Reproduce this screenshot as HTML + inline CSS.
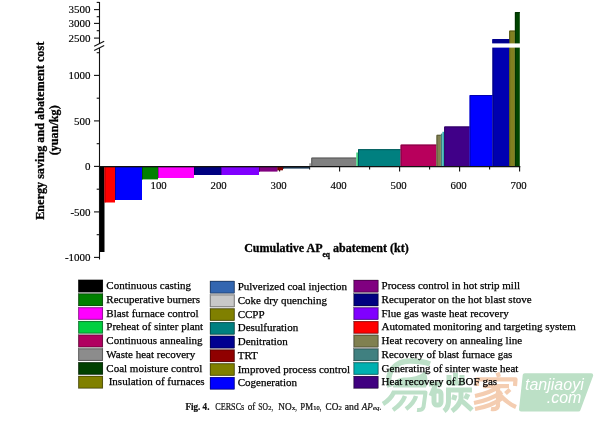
<!DOCTYPE html>
<html><head><meta charset="utf-8"><style>
html,body{margin:0;padding:0;background:#fff;width:600px;height:422px;overflow:hidden}
svg{display:block}
.t{font-family:"Liberation Serif",serif}
.k{stroke:#000;stroke-width:0.25px}
</style></head><body>
<svg width="600" height="422" viewBox="0 0 600 422">
<rect width="600" height="422" fill="#fff"/>

<g stroke="#111" stroke-width="1.1" fill="none">
<line x1="94" y1="75.4" x2="99.5" y2="75.4"/>
<line x1="94" y1="120.9" x2="99.5" y2="120.9"/>
<line x1="94" y1="166.4" x2="99.5" y2="166.4"/>
<line x1="94" y1="211.9" x2="99.5" y2="211.9"/>
<line x1="94" y1="257.4" x2="99.5" y2="257.4"/>
<line x1="96.7" y1="52.7" x2="99.5" y2="52.7"/>
<line x1="96.7" y1="98.2" x2="99.5" y2="98.2"/>
<line x1="96.7" y1="143.7" x2="99.5" y2="143.7"/>
<line x1="96.7" y1="189.2" x2="99.5" y2="189.2"/>
<line x1="96.7" y1="234.7" x2="99.5" y2="234.7"/>
<line x1="96.7" y1="2.4" x2="99.5" y2="2.4"/>
<line x1="94" y1="9.6" x2="99.5" y2="9.6"/>
<line x1="96.7" y1="16.7" x2="99.5" y2="16.7"/>
<line x1="94" y1="23.4" x2="99.5" y2="23.4"/>
<line x1="96.7" y1="30.7" x2="99.5" y2="30.7"/>
<line x1="94" y1="38.1" x2="99.5" y2="38.1"/>
<line x1="99.6" y1="166.6" x2="99.6" y2="171.6"/>
<line x1="129.6" y1="166.6" x2="129.6" y2="169.6"/>
<line x1="159.6" y1="166.6" x2="159.6" y2="171.6"/>
<line x1="189.6" y1="166.6" x2="189.6" y2="169.6"/>
<line x1="219.6" y1="166.6" x2="219.6" y2="171.6"/>
<line x1="249.6" y1="166.6" x2="249.6" y2="169.6"/>
<line x1="279.6" y1="166.6" x2="279.6" y2="171.6"/>
<line x1="309.6" y1="166.6" x2="309.6" y2="169.6"/>
<line x1="339.6" y1="166.6" x2="339.6" y2="171.6"/>
<line x1="369.6" y1="166.6" x2="369.6" y2="169.6"/>
<line x1="399.6" y1="166.6" x2="399.6" y2="171.6"/>
<line x1="429.6" y1="166.6" x2="429.6" y2="169.6"/>
<line x1="459.6" y1="166.6" x2="459.6" y2="171.6"/>
<line x1="489.6" y1="166.6" x2="489.6" y2="169.6"/>
<line x1="519.6" y1="166.6" x2="519.6" y2="171.6"/>
</g>
<rect x="99.5" y="166.4" width="5.00" height="85.60" fill="#000000"/>
<path d="M100.00 252.00 V166.90 H104.50" fill="none" stroke="#000000" stroke-width="1"/>
<rect x="104.5" y="166.4" width="10.50" height="36.10" fill="#FF0000"/>
<path d="M105.00 202.50 V166.90 H115.00" fill="none" stroke="#b20000" stroke-width="1"/>
<rect x="115" y="166.4" width="27.00" height="33.60" fill="#0000FF"/>
<path d="M115.50 200.00 V166.90 H142.00" fill="none" stroke="#0000b2" stroke-width="1"/>
<rect x="142" y="166.4" width="16.00" height="13.00" fill="#008000"/>
<path d="M142.50 179.40 V166.90 H158.00" fill="none" stroke="#005900" stroke-width="1"/>
<rect x="158" y="166.4" width="36.00" height="11.60" fill="#FF00FF"/>
<path d="M158.50 178.00 V166.90 H194.00" fill="none" stroke="#b200b2" stroke-width="1"/>
<rect x="194" y="166.4" width="27.00" height="8.60" fill="#000080"/>
<path d="M194.50 175.00 V166.90 H221.00" fill="none" stroke="#000059" stroke-width="1"/>
<rect x="221" y="166.4" width="38.00" height="8.60" fill="#8000FF"/>
<path d="M221.50 175.00 V166.90 H259.00" fill="none" stroke="#5900b2" stroke-width="1"/>
<rect x="259" y="166.4" width="18.50" height="5.20" fill="#800080"/>
<path d="M259.50 171.60 V166.90 H277.50" fill="none" stroke="#590059" stroke-width="1"/>
<rect x="277.5" y="166.4" width="5.50" height="3.90" fill="#800000"/>
<path d="M278.00 170.30 V166.90 H283.00" fill="none" stroke="#590000" stroke-width="1"/>
<rect x="283" y="166.4" width="26.50" height="2.20" fill="#1F3F5F"/>
<path d="M283.50 168.60 V166.90 H309.50" fill="none" stroke="#152c42" stroke-width="1"/>
<rect x="309.2" y="163.3" width="2.10" height="3.10" fill="#A0A0A0"/>
<rect x="311.3" y="157.6" width="45.00" height="8.80" fill="#808080"/>
<path d="M311.80 166.40 V158.10 H356.30" fill="none" stroke="#595959" stroke-width="1"/>
<rect x="356.3" y="152.5" width="1.70" height="13.90" fill="#40D080"/>
<rect x="358" y="149.2" width="42.60" height="17.20" fill="#008080"/>
<path d="M358.50 166.40 V149.70 H400.60" fill="none" stroke="#005959" stroke-width="1"/>
<rect x="400.6" y="144.6" width="35.90" height="21.80" fill="#B8005C"/>
<path d="M401.10 166.40 V145.10 H436.50" fill="none" stroke="#800040" stroke-width="1"/>
<rect x="436.5" y="134.8" width="4.40" height="31.60" fill="#808050"/>
<path d="M437.00 166.40 V135.30 H440.90" fill="none" stroke="#595938" stroke-width="1"/>
<rect x="440.9" y="133.6" width="1.50" height="32.80" fill="#408080"/>
<rect x="442.4" y="131.8" width="1.80" height="34.60" fill="#30B0B0"/>
<rect x="444.2" y="126.5" width="25.50" height="39.90" fill="#400088"/>
<path d="M444.70 166.40 V127.00 H469.70" fill="none" stroke="#2c005f" stroke-width="1"/>
<rect x="469.6" y="95" width="22.90" height="71.40" fill="#0000FF"/>
<path d="M470.10 166.40 V95.50 H492.50" fill="none" stroke="#0000b2" stroke-width="1"/>
<rect x="492.5" y="39.1" width="16.70" height="127.30" fill="#0000B0"/>
<path d="M493.00 166.40 V39.60 H509.20" fill="none" stroke="#00007b" stroke-width="1"/>
<rect x="509.2" y="30.6" width="5.70" height="135.80" fill="#808020"/>
<path d="M509.70 166.40 V31.10 H514.90" fill="none" stroke="#595916" stroke-width="1"/>
<rect x="514.9" y="12.1" width="4.90" height="154.30" fill="#004400"/>
<path d="M515.40 166.40 V12.60 H519.80" fill="none" stroke="#002f00" stroke-width="1"/>
<rect x="492.5" y="39.1" width="16.7" height="4.3" fill="#000090"/>
<rect x="492" y="43.4" width="28.5" height="4.2" fill="#fff"/>
<g stroke="#111" stroke-width="1.1" fill="none">
<line x1="99.2" y1="166.6" x2="520.3" y2="166.6"/>
<line x1="99.5" y1="48" x2="99.5" y2="259.5"/>
<line x1="99.5" y1="2" x2="99.5" y2="44"/>
</g>
<g stroke="#111" stroke-width="1.1"><line x1="94.2" y1="46.2" x2="104.2" y2="41.3"/><line x1="94.2" y1="50.5" x2="104.2" y2="45.5"/></g>
<g class="t" font-size="11" fill="#000" stroke="#000" stroke-width="0.15" text-anchor="end">
<text x="90.6" y="79.2">1000</text>
<text x="90.6" y="124.7">500</text>
<text x="90.6" y="170.2">0</text>
<text x="90.6" y="215.7">-500</text>
<text x="90.6" y="261.2">-1000</text>
<text x="90.6" y="13.4">3500</text>
<text x="90.6" y="27.2">3000</text>
<text x="90.6" y="41.9">2500</text>
</g>
<g class="t" font-size="10.8" fill="#000" stroke="#000" stroke-width="0.15" text-anchor="middle">
<text x="158.6" y="189.3">100</text>
<text x="218.6" y="189.3">200</text>
<text x="278.6" y="189.3">300</text>
<text x="338.6" y="189.3">400</text>
<text x="398.6" y="189.3">500</text>
<text x="458.6" y="189.3">600</text>
<text x="518.6" y="189.3">700</text>
</g>
<g class="t" font-weight="bold" fill="#000" stroke="#000" stroke-width="0.3">
<text transform="translate(44.2 130.8) rotate(-90)" text-anchor="middle" font-size="12.2">Energy saving and abatement cost</text>
<text transform="translate(58.2 130.3) rotate(-90)" text-anchor="middle" font-size="12.2">(yuan/kg)</text>
<text x="244.2" y="251.7" font-size="12">Cumulative AP<tspan font-size="7.5" dy="4.8">eq</tspan><tspan dy="-4.8"> abatement (kt)</tspan></text>
</g>
<g class="t k" font-size="11" fill="#000">
<rect x="78.3" y="279.90" width="24.6" height="12.3" fill="#000000"/>
<rect x="78.8" y="280.40" width="23.6" height="11.3" fill="none" stroke="rgba(0,0,0,0.22)" stroke-width="1"/>
<text x="106.3" y="289.20">Continuous casting</text>
<rect x="78.3" y="293.63" width="24.6" height="12.3" fill="#008000"/>
<rect x="78.8" y="294.13" width="23.6" height="11.3" fill="none" stroke="rgba(0,0,0,0.22)" stroke-width="1"/>
<text x="106.3" y="302.93">Recuperative burners</text>
<rect x="78.3" y="307.36" width="24.6" height="12.3" fill="#FF00FF"/>
<rect x="78.8" y="307.86" width="23.6" height="11.3" fill="none" stroke="rgba(0,0,0,0.22)" stroke-width="1"/>
<text x="106.3" y="316.66">Blast furnace control</text>
<rect x="78.3" y="321.09" width="24.6" height="12.3" fill="#00D040"/>
<rect x="78.8" y="321.59" width="23.6" height="11.3" fill="none" stroke="rgba(0,0,0,0.22)" stroke-width="1"/>
<text x="106.3" y="330.39">Preheat of sinter plant</text>
<rect x="78.3" y="334.82" width="24.6" height="12.3" fill="#B00060"/>
<rect x="78.8" y="335.32" width="23.6" height="11.3" fill="none" stroke="rgba(0,0,0,0.22)" stroke-width="1"/>
<text x="106.3" y="344.12">Continuous annealing</text>
<rect x="78.3" y="348.55" width="24.6" height="12.3" fill="#8C8C8C"/>
<rect x="78.8" y="349.05" width="23.6" height="11.3" fill="none" stroke="rgba(0,0,0,0.22)" stroke-width="1"/>
<text x="106.3" y="357.85">Waste heat recovery</text>
<rect x="78.3" y="362.28" width="24.6" height="12.3" fill="#004000"/>
<rect x="78.8" y="362.78" width="23.6" height="11.3" fill="none" stroke="rgba(0,0,0,0.22)" stroke-width="1"/>
<text x="106.3" y="371.58">Coal moisture control</text>
<rect x="78.3" y="376.01" width="24.6" height="12.3" fill="#808000"/>
<rect x="78.8" y="376.51" width="23.6" height="11.3" fill="none" stroke="rgba(0,0,0,0.22)" stroke-width="1"/>
<text x="108.7" y="385.31">Insulation of furnaces</text>
<rect x="210" y="281.00" width="24.6" height="12.3" fill="#3366B0"/>
<rect x="210.5" y="281.50" width="23.6" height="11.3" fill="none" stroke="rgba(0,0,0,0.22)" stroke-width="1"/>
<text x="237.7" y="290.30">Pulverized coal injection</text>
<rect x="210" y="294.73" width="24.6" height="12.3" fill="#C8C8C8"/>
<rect x="210.5" y="295.23" width="23.6" height="11.3" fill="none" stroke="rgba(0,0,0,0.22)" stroke-width="1"/>
<text x="237.7" y="304.03">Coke dry quenching</text>
<rect x="210" y="308.46" width="24.6" height="12.3" fill="#808000"/>
<rect x="210.5" y="308.96" width="23.6" height="11.3" fill="none" stroke="rgba(0,0,0,0.22)" stroke-width="1"/>
<text x="237.7" y="317.76">CCPP</text>
<rect x="210" y="322.19" width="24.6" height="12.3" fill="#008080"/>
<rect x="210.5" y="322.69" width="23.6" height="11.3" fill="none" stroke="rgba(0,0,0,0.22)" stroke-width="1"/>
<text x="237.7" y="331.49">Desulfuration</text>
<rect x="210" y="335.92" width="24.6" height="12.3" fill="#000090"/>
<rect x="210.5" y="336.42" width="23.6" height="11.3" fill="none" stroke="rgba(0,0,0,0.22)" stroke-width="1"/>
<text x="237.7" y="345.22">Denitration</text>
<rect x="210" y="349.65" width="24.6" height="12.3" fill="#900000"/>
<rect x="210.5" y="350.15" width="23.6" height="11.3" fill="none" stroke="rgba(0,0,0,0.22)" stroke-width="1"/>
<text x="237.7" y="358.95">TRT</text>
<rect x="210" y="363.38" width="24.6" height="12.3" fill="#808000"/>
<rect x="210.5" y="363.88" width="23.6" height="11.3" fill="none" stroke="rgba(0,0,0,0.22)" stroke-width="1"/>
<text x="237.7" y="372.68">Improved process control</text>
<rect x="210" y="377.11" width="24.6" height="12.3" fill="#0000FF"/>
<rect x="210.5" y="377.61" width="23.6" height="11.3" fill="none" stroke="rgba(0,0,0,0.22)" stroke-width="1"/>
<text x="237.7" y="386.41">Cogeneration</text>
<rect x="353.7" y="280.00" width="24.6" height="12.3" fill="#800080"/>
<rect x="354.2" y="280.50" width="23.6" height="11.3" fill="none" stroke="rgba(0,0,0,0.22)" stroke-width="1"/>
<text x="381.6" y="289.30">Process control in hot strip mill</text>
<rect x="353.7" y="293.73" width="24.6" height="12.3" fill="#000080"/>
<rect x="354.2" y="294.23" width="23.6" height="11.3" fill="none" stroke="rgba(0,0,0,0.22)" stroke-width="1"/>
<text x="381.6" y="303.03">Recuperator on the hot blast stove</text>
<rect x="353.7" y="307.46" width="24.6" height="12.3" fill="#8000FF"/>
<rect x="354.2" y="307.96" width="23.6" height="11.3" fill="none" stroke="rgba(0,0,0,0.22)" stroke-width="1"/>
<text x="381.6" y="316.76">Flue gas waste heat recovery</text>
<rect x="353.7" y="321.19" width="24.6" height="12.3" fill="#FF0000"/>
<rect x="354.2" y="321.69" width="23.6" height="11.3" fill="none" stroke="rgba(0,0,0,0.22)" stroke-width="1"/>
<text x="381.6" y="330.49">Automated monitoring and targeting system</text>
<rect x="353.7" y="334.92" width="24.6" height="12.3" fill="#808050"/>
<rect x="354.2" y="335.42" width="23.6" height="11.3" fill="none" stroke="rgba(0,0,0,0.22)" stroke-width="1"/>
<text x="381.6" y="344.22">Heat recovery on annealing line</text>
<rect x="353.7" y="348.65" width="24.6" height="12.3" fill="#408080"/>
<rect x="354.2" y="349.15" width="23.6" height="11.3" fill="none" stroke="rgba(0,0,0,0.22)" stroke-width="1"/>
<text x="381.6" y="357.95">Recovery of blast furnace gas</text>
<rect x="353.7" y="362.38" width="24.6" height="12.3" fill="#00B0B0"/>
<rect x="354.2" y="362.88" width="23.6" height="11.3" fill="none" stroke="rgba(0,0,0,0.22)" stroke-width="1"/>
<text x="381.6" y="371.68">Generating of sinter waste heat</text>
<rect x="353.7" y="376.11" width="24.6" height="12.3" fill="#400080"/>
<rect x="354.2" y="376.61" width="23.6" height="11.3" fill="none" stroke="rgba(0,0,0,0.22)" stroke-width="1"/>
<text x="381.6" y="385.41">Heat recovery of BOF gas</text>
</g>
<g class="t" fill="#111" stroke="#111" stroke-width="0.22">
<text x="185.5" y="409.8" font-size="9.5" textLength="23.9" lengthAdjust="spacingAndGlyphs" font-weight="bold">Fig. 4.</text>
<text x="215.2" y="409.8" font-size="9.5" textLength="29.1" lengthAdjust="spacingAndGlyphs" >CERSCs</text>
<text x="247.8" y="409.8" font-size="9.5" textLength="7.6" lengthAdjust="spacingAndGlyphs" >of</text>
<text x="258.3" y="409.8" font-size="9.5" textLength="9.7" lengthAdjust="spacingAndGlyphs" >SO</text>
<text x="268.2" y="410.2" font-size="6.2" textLength="3.2" lengthAdjust="spacingAndGlyphs" >2</text>
<text x="271.6" y="409.8" font-size="9.5" textLength="1.6" lengthAdjust="spacingAndGlyphs" >,</text>
<text x="278.3" y="409.8" font-size="9.5" textLength="13.4" lengthAdjust="spacingAndGlyphs" >NO</text>
<text x="291.9" y="410.2" font-size="6.2" textLength="3.2" lengthAdjust="spacingAndGlyphs" >x</text>
<text x="295.3" y="409.8" font-size="9.5" textLength="1.6" lengthAdjust="spacingAndGlyphs" >,</text>
<text x="300.3" y="409.8" font-size="9.5" textLength="12.7" lengthAdjust="spacingAndGlyphs" >PM</text>
<text x="313.2" y="410.2" font-size="6.2" textLength="6.4" lengthAdjust="spacingAndGlyphs" >10</text>
<text x="319.8" y="409.8" font-size="9.5" textLength="1.6" lengthAdjust="spacingAndGlyphs" >,</text>
<text x="325.6" y="409.8" font-size="9.5" textLength="12.8" lengthAdjust="spacingAndGlyphs" >CO</text>
<text x="338.6" y="410.2" font-size="6.2" textLength="3.3" lengthAdjust="spacingAndGlyphs" >2</text>
<text x="344.8" y="409.8" font-size="9.5" textLength="14.0" lengthAdjust="spacingAndGlyphs" >and</text>
<text x="361.8" y="409.8" font-size="9.5" textLength="11.0" lengthAdjust="spacingAndGlyphs" font-style="italic">AP</text>
<text x="373.0" y="410.2" font-size="6.2" textLength="6.3" lengthAdjust="spacingAndGlyphs" font-style="italic">eq</text>
<text x="379.5" y="409.8" font-size="9.5" textLength="1.6" lengthAdjust="spacingAndGlyphs" >.</text>
</g>
<g style="mix-blend-mode:multiply">
<g fill="none" stroke="#BDE0C8" stroke-width="5" stroke-linecap="butt" stroke-linejoin="round">
<path d="M390 387 C385 372 396 361 410 361 C418 361 425 362 430 364" stroke-width="5.5"/>
<path d="M393 387.5 C393 381 398 377.5 404 377.5 C412 377.5 420 376 425 371 C428 376 428 382 426 387.5 Z" fill="#BDE0C8" stroke="none"/>
<path d="M392 392.5 L425.5 392.5 L423.5 407 Q422.5 410.5 417 410" stroke-width="4"/>
<path d="M394 392 Q391 399 383 404" stroke-width="4.5"/>
<path d="M405 396 Q402 404 393 410" stroke-width="4.5"/>
<path d="M416 396 Q414 403 406 409" stroke-width="4.5"/>
<path d="M429 384 L442 384"/>
<path d="M436 384 L431 396"/>
<rect x="434" y="391" width="7" height="14" rx="3"/>
<path d="M449 375 L449 383 L462 383 L462 375"/>
<path d="M455.5 373 L455.5 383"/>
<path d="M446 390 L472 390"/>
<path d="M448.5 390 L448.5 402 Q448 408 444 411"/>
<path d="M455 395 L453.5 400"/>
<path d="M468 394 L465.5 399"/>
<path d="M461 392 L461 399 Q459 406 452 411"/>
<path d="M462 401 L472 410"/>
</g>
<g fill="none" stroke="#F4CDB1" stroke-width="4.2" stroke-linecap="butt" stroke-linejoin="round">
<path d="M497.5 372.5 L499 377"/>
<path d="M477 386 L477 379.3 L515.5 379.3 L515 386"/>
<path d="M483 386.1 L509 386.1"/>
<path d="M500 386 Q490 393 475 396"/>
<path d="M502 392 Q490 400 474 403"/>
<path d="M503 397.5 Q492 406 475 409"/>
<path d="M498 387 L498 406 Q497 410 491 409"/>
<path d="M499.5 394.5 Q507 403 516 407"/>
<path d="M510 389.5 L505.5 393.5"/>
</g>
<path d="M524.7 375.2 L591.2 375.2 L578.5 409.5 L521 409.5 Z" fill="#BCE0C6" stroke="#BCE0C6" stroke-width="4" stroke-linejoin="round"/>
<text x="525" y="389.7" font-family="Liberation Sans" font-style="italic" font-size="16" fill="#fff">tanjiaoyi</text>
<text x="546.7" y="402.5" font-family="Liberation Sans" font-style="italic" font-size="16" fill="#fff">.com</text>
</g>
</svg></body></html>
